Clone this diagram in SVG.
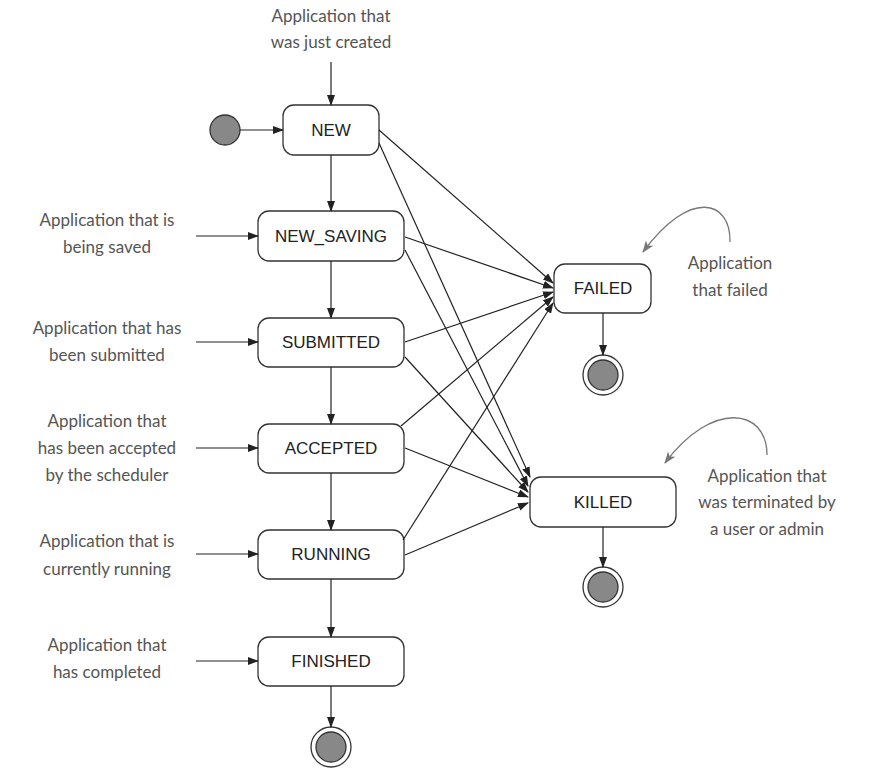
<svg xmlns="http://www.w3.org/2000/svg" width="873" height="784" viewBox="0 0 873 784">
<defs>
<marker id="ah" markerWidth="11" markerHeight="8" refX="10" refY="4" orient="auto" markerUnits="userSpaceOnUse">
<path d="M0,0 L11,4 L0,8 Z" fill="#222"/>
</marker>
<marker id="gh" markerWidth="12" markerHeight="9" refX="11" refY="4.5" orient="auto" markerUnits="userSpaceOnUse">
<path d="M0,0 L12,4.5 L0,9 L3,4.5 Z" fill="#777"/>
</marker>
</defs>
<style>
.node rect{fill:#fff;stroke:#333;stroke-width:1.3}
.lbl{font-family:"Liberation Sans",Arial,sans-serif;font-size:17px;fill:#222;text-anchor:middle}
.note{font-family:Lato,"Open Sans",sans-serif;font-size:17px;fill:#555;text-anchor:middle}
.edge{stroke:#222;stroke-width:1.2;fill:none;marker-end:url(#ah)}
.gedge{stroke:#777;stroke-width:1.3;fill:none;marker-end:url(#gh)}
.start{fill:#888;stroke:#333;stroke-width:1.3}
.fo{fill:#fff;stroke:#333;stroke-width:1.3}
.fi{fill:#888;stroke:#333;stroke-width:1.3}
</style>
<rect width="873" height="784" fill="#fff"/>

<g id="notes">
<text class="note" x="331" y="22">Application that</text>
<text class="note" x="331" y="48">was just created</text>
<text class="note" x="107" y="226">Application that is</text>
<text class="note" x="107" y="253">being saved</text>
<text class="note" x="107" y="334">Application that has</text>
<text class="note" x="107" y="361">been submitted</text>
<text class="note" x="107" y="427">Application that</text>
<text class="note" x="107" y="454">has been accepted</text>
<text class="note" x="107" y="481">by the scheduler</text>
<text class="note" x="107" y="547">Application that is</text>
<text class="note" x="107" y="575">currently running</text>
<text class="note" x="107" y="651">Application that</text>
<text class="note" x="107" y="678">has completed</text>
<text class="note" x="730" y="269">Application</text>
<text class="note" x="730" y="296">that failed</text>
<text class="note" x="767" y="482">Application that</text>
<text class="note" x="767" y="508">was terminated by</text>
<text class="note" x="767" y="535">a user or admin</text>
</g>

<g id="initial"><circle class="start" cx="225" cy="130" r="15"/></g>

<g id="NEW" class="node"><rect x="283" y="105" width="96" height="50" rx="11"/><text class="lbl" x="331" y="136">NEW</text></g>
<g id="NEW_SAVING" class="node"><rect x="258" y="211" width="146" height="50" rx="11"/><text class="lbl" x="331" y="242">NEW_SAVING</text></g>
<g id="SUBMITTED" class="node"><rect x="258" y="318" width="146" height="49" rx="11"/><text class="lbl" x="331" y="348">SUBMITTED</text></g>
<g id="ACCEPTED" class="node"><rect x="258" y="424" width="146" height="49" rx="11"/><text class="lbl" x="331" y="454">ACCEPTED</text></g>
<g id="RUNNING" class="node"><rect x="258" y="530" width="146" height="49" rx="11"/><text class="lbl" x="331" y="560">RUNNING</text></g>
<g id="FINISHED" class="node"><rect x="258" y="637" width="146" height="49" rx="11"/><text class="lbl" x="331" y="667">FINISHED</text></g>
<g id="FAILED" class="node"><rect x="554" y="264" width="97" height="49" rx="11"/><text class="lbl" x="603" y="294">FAILED</text></g>
<g id="KILLED" class="node"><rect x="530" y="477" width="146" height="50" rx="11"/><text class="lbl" x="603" y="508">KILLED</text></g>

<g id="final-finished"><circle class="fo" cx="331" cy="747" r="20"/><circle class="fi" cx="331" cy="747" r="15"/></g>
<g id="final-failed"><circle class="fo" cx="603" cy="375" r="20"/><circle class="fi" cx="603" cy="375" r="15"/></g>
<g id="final-killed"><circle class="fo" cx="603" cy="587" r="20"/><circle class="fi" cx="603" cy="587" r="15"/></g>

<g id="connectors">
<line class="edge" x1="331" y1="62" x2="331" y2="105"/>
<line class="edge" x1="240" y1="130" x2="283" y2="130"/>
<line class="edge" x1="331" y1="155" x2="331" y2="211"/>
<line class="edge" x1="331" y1="261" x2="331" y2="318"/>
<line class="edge" x1="331" y1="367" x2="331" y2="424"/>
<line class="edge" x1="331" y1="473" x2="331" y2="530"/>
<line class="edge" x1="331" y1="579" x2="331" y2="637"/>
<line class="edge" x1="331" y1="686" x2="331" y2="727"/>
<line class="edge" x1="603" y1="313" x2="603" y2="355"/>
<line class="edge" x1="603" y1="527" x2="603" y2="567"/>
<line class="edge" x1="196" y1="236" x2="258" y2="236"/>
<line class="edge" x1="196" y1="342" x2="258" y2="342"/>
<line class="edge" x1="196" y1="448" x2="258" y2="448"/>
<line class="edge" x1="196" y1="554" x2="258" y2="554"/>
<line class="edge" x1="196" y1="661" x2="258" y2="661"/>
<line class="edge" x1="379" y1="130" x2="553" y2="283"/>
<line class="edge" x1="405" y1="237" x2="553" y2="288"/>
<line class="edge" x1="405" y1="342" x2="553" y2="292"/>
<line class="edge" x1="401" y1="426" x2="553" y2="297"/>
<line class="edge" x1="403" y1="540" x2="553" y2="303"/>
<line class="edge" x1="379" y1="143" x2="530" y2="477"/>
<line class="edge" x1="405" y1="250" x2="528" y2="486"/>
<line class="edge" x1="405" y1="357" x2="528" y2="492"/>
<line class="edge" x1="405" y1="448" x2="528" y2="497"/>
<line class="edge" x1="405" y1="555" x2="528" y2="503"/>
<path class="gedge" d="M730,242 C731,200 690,188 643,252"/>
<path class="gedge" d="M767,455 C767,408 712,400 665,463"/>
</g>
</svg>
